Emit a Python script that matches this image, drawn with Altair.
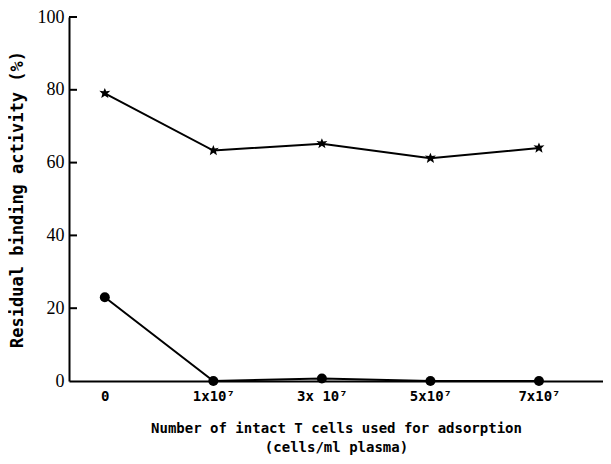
import altair as alt
import pandas as pd

positions = [0, 1, 2, 3, 4]
tick_labels = ["0", "1x10⁷", "3x 10⁷", "5x10⁷", "7x10⁷"]
star_values = [79, 63.3, 65.2, 61.2, 64.0]
circle_values = [23, 0, 0.7, 0, 0]
y_ticks = [0, 20, 40, 60, 80, 100]

rows = []
for p, s, c in zip(positions, star_values, circle_values):
    rows.append({"pos": p, "val": s, "series": "star"})
    rows.append({"pos": p, "val": c, "series": "circle"})
df = pd.DataFrame(rows)
ticks_df = pd.DataFrame({"t": y_ticks[1:]})

label_expr = "[" + ",".join("'" + l + "'" for l in tick_labels) + "][datum.value]"

xs = alt.X("pos:Q", scale=alt.Scale(domain=[-0.33, 4.59], nice=False, zero=False),
           axis=alt.Axis(values=positions, labelExpr=label_expr, ticks=False, grid=False,
                         domainColor="black", domainWidth=2, labelFont="DejaVu Sans Mono",
                         labelFontSize=14, labelFontWeight="bold", labelColor="black", labelPadding=8,
                         title=["Number of intact T cells used for adsorption", "(cells/ml plasma)"],
                         titleFont="DejaVu Sans Mono", titleFontSize=14, titleFontWeight="bold",
                         titleColor="black", titlePadding=18, titleLineHeight=19))
ys = alt.Y("val:Q", scale=alt.Scale(domain=[0, 100], nice=False),
           axis=alt.Axis(values=y_ticks, ticks=False, grid=False, domainColor="black", domainWidth=2,
                         labelFont="Liberation Sans Narrow", labelFontSize=18, labelColor="black",
                         labelPadding=5, labelBaseline="middle",
                         title="Residual binding activity (%)", titleFont="DejaVu Sans Mono",
                         titleFontSize=17, titleFontWeight="bold", titleColor="black",
                         titlePadding=11))

base = alt.Chart(df)
lines = base.mark_line(color="black", strokeWidth=2).encode(x=xs, y=ys, detail="series:N")
stars = base.transform_filter("datum.series == 'star'").mark_point(
    shape="M0,-1L0.25,-0.4L1,-0.5L0.45,0.05L0.65,0.85L0,0.4L-0.65,0.85L-0.45,0.05L-1,-0.5L-0.25,-0.4Z",
    filled=True, color="black", size=120, opacity=1).encode(x=xs, y=ys)
circles = base.transform_filter("datum.series == 'circle'").mark_circle(
    color="black", size=100, opacity=1).encode(x=xs, y=ys)
ticks = alt.Chart(ticks_df).mark_rule(color="black", strokeWidth=2).encode(
    y=alt.Y("t:Q", scale=alt.Scale(domain=[0, 100], nice=False)),
    x=alt.value(0), x2=alt.value(8))

chart = alt.layer(lines, stars, circles, ticks).properties(
    width=534, height=364,
    autosize=alt.AutoSizeParams(type="none"),
    padding={"left": 61, "top": 9, "right": 0, "bottom": 75},
).configure_view(stroke=None)

chart.save("out.html", embed_options={"renderer": "svg", "actions": False})
